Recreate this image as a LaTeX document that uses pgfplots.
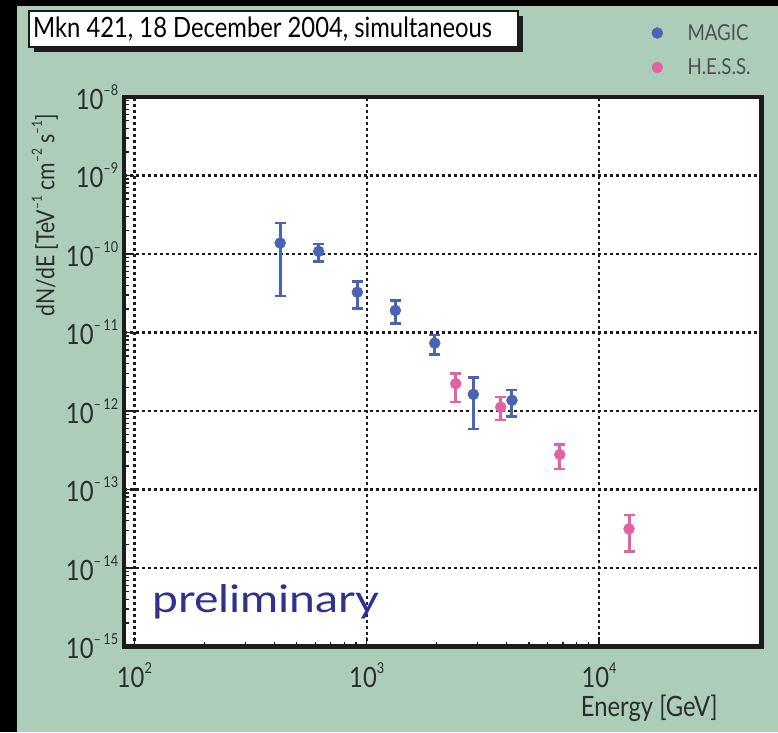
\documentclass[border=0pt]{standalone}
\usepackage{pgfplots}
\pgfplotsset{compat=1.18}
\usepackage{fontspec}
\setmainfont{Lato}
\newfontfamily\rootfont{Lato}[FakeStretch=0.85]
\newfontfamily\prelimfont{Lato}[FakeStretch=1.22]

\definecolor{bggreen}{RGB}{171,205,186}
\definecolor{magicblue}{RGB}{72,100,178}
\definecolor{hesspink}{RGB}{226,98,164}
\definecolor{prelimblue}{RGB}{45,50,145}
\definecolor{framegray}{RGB}{28,28,28}
\definecolor{textgray}{RGB}{45,45,45}
\definecolor{legendgray}{RGB}{80,80,80}

% tick label: 10 with a raised exponent
\newcommand{\tenpow}[1]{{\rootfont\fontsize{28}{28}\selectfont 10\raisebox{0.5em}{\fontsize{15}{15}\selectfont #1}}}
\newcommand{\expo}[1]{\raisebox{0.5em}{\fontsize{14}{14}\selectfont\textendash#1}}

\begin{document}
\begin{tikzpicture}
\useasboundingbox (0pt,0pt) rectangle (778pt,732pt);
\fill[black] (0pt,0pt) rectangle (778pt,732pt);
\fill[bggreen] (17pt,0pt) rectangle (778pt,726pt);

% title box with drop shadow
\fill[framegray] (34pt,680pt) rectangle (523pt,716pt);
\draw[framegray, line width=1.5pt, fill=white] (29pt,685pt) rectangle (518pt,721pt);
\node[anchor=west, text=black, inner sep=0pt] at (33pt,703pt)
  {\rootfont\fontsize{28}{28}\selectfont Mkn 421, 18 December 2004, simultaneous};

\begin{axis}[
  at={(123.8pt,85.5pt)}, anchor=south west,
  scale only axis, width=637.6pt, height=549.5pt,
  xmode=log, ymode=log,
  xmin=90, xmax=5e4, ymin=1e-15, ymax=1e-8,
  axis background/.style={fill=white},
  axis line style={framegray, line width=4.5pt, line join=miter},
  tick pos=left, tick align=inside,
  major tick length=10pt, minor tick length=5pt,
  tick style={framegray, line width=1.3pt},
  xtick={1e2,1e3,1e4},
  xticklabels={\tenpow{2},\tenpow{3},\tenpow{4}},
  ytick={1e-15,1e-14,1e-13,1e-12,1e-11,1e-10,1e-9,1e-8},
  yticklabels={\tenpow{\textendash\,15},\tenpow{\textendash\,14},\tenpow{\textendash\,13},\tenpow{\textendash\,12},\tenpow{\textendash\,11},\tenpow{\textendash\,10},\tenpow{\textendash9},\tenpow{\textendash8}},
  xticklabel style={text=textgray, yshift=-13pt},
  yticklabel style={text=textgray, xshift=-2pt},
  xmajorgrids, ymajorgrids,
  major grid style={draw=framegray, line width=2.2pt, dash pattern=on 3pt off 3pt},
  xlabel={\rootfont\fontsize{28}{28}\selectfont Energy [GeV]},
  xlabel style={at={(axis description cs:0.824,-0.112)}, anchor=center, text=textgray},
  ylabel={\rootfont\fontsize{25}{25}\selectfont dN/dE [TeV\expo{1} cm\expo{2} s\expo{1}]},
  ylabel style={at={(axis description cs:-0.124,0.785)}, anchor=center, rotate=0, text=textgray},
  legend style={at={(axis description cs:0.822,1.14)}, anchor=north west,
    draw=none, fill=none, text=legendgray, row sep=13pt,
    font=\rootfont\fontsize{22}{22}\selectfont},
  legend cell align=left,
  legend image code/.code={\draw[#1] plot coordinates {(0pt,0pt)};\path (-6pt,0pt) (28pt,0pt);},
  clip=false,
]
\addplot[only marks, mark=*, draw=magicblue, mark size=5.5pt,
  mark options={solid, fill=magicblue, draw=magicblue},
  error bars/.cd, y dir=both, y explicit,
  error bar style={line width=3pt, magicblue},
  error mark options={rotate=90, mark size=5.5pt, line width=2.6pt, magicblue}]
  table[x=E, y=F, y error plus=ep, y error minus=em] {
  E      F         ep        em
  424    1.38e-10  1.10e-10  1.088e-10
  621    1.08e-10  2.6e-11   2.73e-11
  911    3.26e-11  1.20e-11  1.24e-11
  1328   1.91e-11  6.5e-12   6.0e-12
  1963   7.33e-12  2.02e-12  2.06e-12
  2877   1.63e-12  1.06e-12  1.043e-12
  4218   1.37e-12  4.8e-13   5.21e-13
};
\addlegendentry{MAGIC}
\addplot[only marks, mark=*, draw=hesspink, mark size=5.5pt,
  mark options={solid, fill=hesspink, draw=hesspink},
  error bars/.cd, y dir=both, y explicit,
  error bar style={line width=3pt, hesspink},
  error mark options={rotate=90, mark size=5.5pt, line width=2.6pt, hesspink}]
  table[x=E, y=F, y error plus=ep, y error minus=em] {
  E      F         ep        em
  2417   2.23e-12  7.9e-13   9.2e-13
  3776   1.12e-12  3.8e-13   3.49e-13
  6776   2.79e-13  9.5e-14   9.7e-14
  13460  3.15e-14  1.59e-14  1.53e-14
};
\addlegendentry{H.E.S.S.}
\node[anchor=base west, text=prelimblue, inner sep=0pt] at (axis description cs:0.044,0.062)
  {\prelimfont\fontsize{38}{38}\selectfont preliminary};
\end{axis}
\end{tikzpicture}
\end{document}
